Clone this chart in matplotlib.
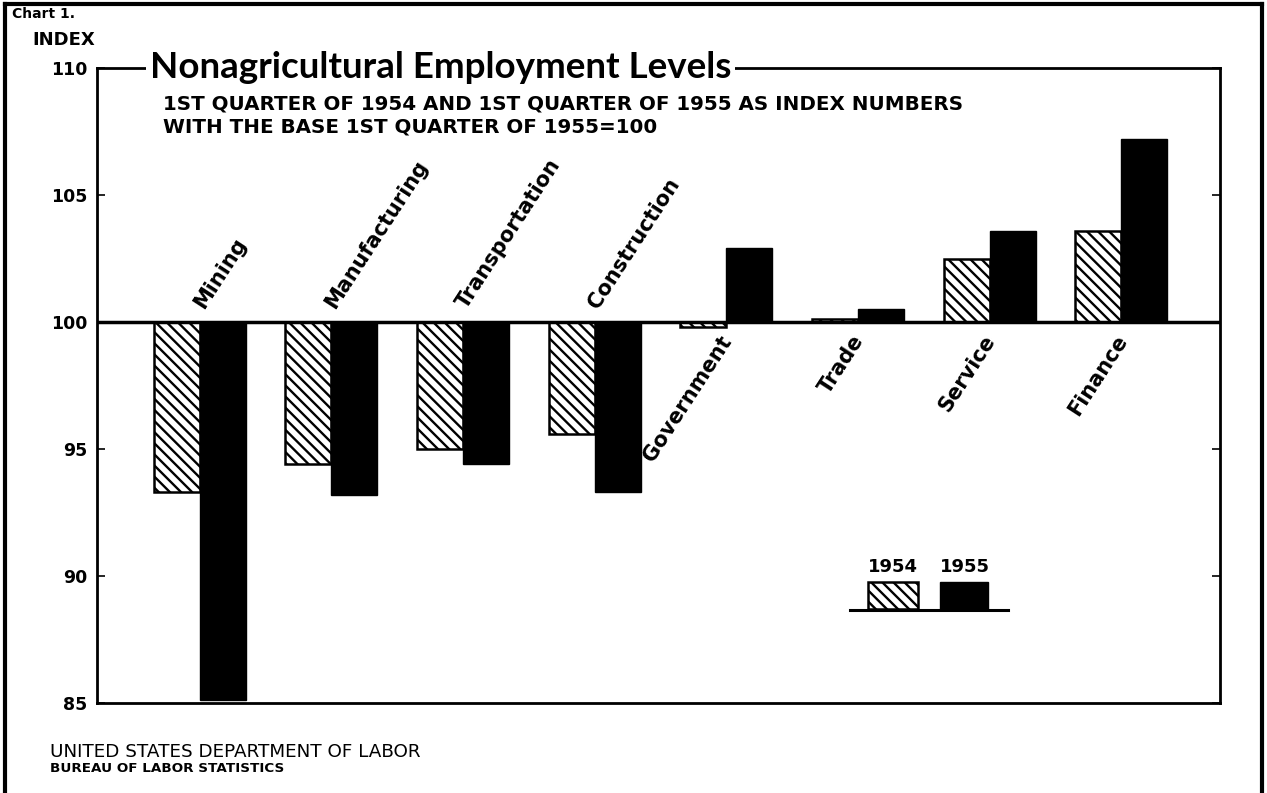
import matplotlib
matplotlib.use("Agg")
import matplotlib.pyplot as plt
from matplotlib.lines import Line2D
from matplotlib.patches import Rectangle
import numpy as np

categories = ["Mining", "Manufacturing", "Transportation", "Construction",
              "Government", "Trade", "Service", "Finance"]
idx_1954 = [93.3, 94.4, 95.0, 95.6, 99.8, 100.1, 102.5, 103.6]
idx_1955 = [85.1, 93.2, 94.4, 93.3, 102.9, 100.5, 103.6, 107.2]
yticks = [85, 90, 95, 100, 105, 110]
legend_labels = ["1954", "1955"]

W, H = 1267, 793
plt.rcParams['hatch.linewidth'] = 1.7
fig = plt.figure(figsize=(W / 100, H / 100), dpi=100)
ax = fig.add_axes([97 / W, 1 - 703 / H, (1220 - 97) / W, (703 - 68) / H])

HEAVY = dict(family=['DejaVu Sans'], fontweight='bold')

x = np.arange(len(categories))
bw = 0.35
base = 100
ax.bar(x - bw / 2, np.array(idx_1954) - base, bw, bottom=base, color='white',
       edgecolor='black', hatch='\\\\\\', linewidth=1.8)
ax.bar(x + bw / 2, np.array(idx_1955) - base, bw, bottom=base, color='black',
       edgecolor='black', linewidth=1.0)

ax.axhline(base, color='black', lw=2.5, zorder=3)
ax.set_xlim(-0.78, 7.75)
ax.set_ylim(85, 110)
ax.set_yticks(yticks)
ax.set_yticklabels([str(t) for t in yticks], **HEAVY, fontsize=12.5)
ax.set_xticks([])
ax.tick_params(axis='y', direction='in', length=6, width=1.2, right=True, pad=7)
for s in ax.spines.values():
    s.set_linewidth(2)

for i, (c, v4, v5) in enumerate(zip(categories, idx_1954, idx_1955)):
    if v5 < base:
        ax.text(i - 0.01, base + 0.6, c, rotation=57, rotation_mode='anchor',
                ha='left', va='center', fontsize=15, **HEAVY)
    else:
        ax.text(i + 0.01, base - 0.6, c, rotation=57, rotation_mode='anchor',
                ha='right', va='center', fontsize=15, **HEAVY)

# legend
ax.add_patch(Rectangle((0.6866, 0.148), 0.0444, 0.0426, transform=ax.transAxes,
                       facecolor='white', edgecolor='black', hatch='\\\\\\', lw=1.8))
ax.add_patch(Rectangle((0.7507, 0.148), 0.0427, 0.0426, transform=ax.transAxes,
                       facecolor='black', edgecolor='black', lw=1))
ax.add_line(Line2D([0.6705, 0.8112], [0.1465, 0.1465], transform=ax.transAxes,
                   color='black', lw=2.2))
ax.text(0.7088, 0.214, legend_labels[0], transform=ax.transAxes, ha='center',
        va='center', fontsize=13, **HEAVY)
ax.text(0.773, 0.214, legend_labels[1], transform=ax.transAxes, ha='center',
        va='center', fontsize=13, **HEAVY)

# titles
fig.text(150 / W, 1 - 68 / H, "Nonagricultural Employment Levels", ha='left',
         va='center', fontsize=26.5, family=['Lato', 'DejaVu Sans'], fontweight='bold',
         bbox=dict(facecolor='white', edgecolor='none', pad=3), zorder=5)
fig.text(163 / W, 1 - 104 / H,
         "1ST QUARTER OF 1954 AND 1ST QUARTER OF 1955 AS INDEX NUMBERS",
         ha='left', va='center', fontsize=14.3, **HEAVY)
fig.text(163 / W, 1 - 127 / H, "WITH THE BASE 1ST QUARTER OF 1955=100",
         ha='left', va='center', fontsize=14.3, **HEAVY)
fig.text(12 / W, 1 - 14 / H, "Chart 1.", ha='left', va='center', fontsize=10,
         family=['DejaVu Sans'], fontweight='bold')
fig.text(32 / W, 1 - 40 / H, "INDEX", ha='left', va='center', fontsize=13, **HEAVY)

fig.text(50 / W, 1 - 752 / H, "UNITED STATES DEPARTMENT OF LABOR", ha='left',
         va='center', fontsize=13.2, family=['DejaVu Sans'])
fig.text(50 / W, 1 - 769 / H, "BUREAU OF LABOR STATISTICS", ha='left',
         va='center', fontsize=9.7, family=['DejaVu Sans'], fontweight='bold')

# page frame
fl, fr, ft = 5 / W, 1262 / W, 1 - 4 / H
for xs, ys in [([fl, fl], [0, ft]), ([fl, fr], [ft, ft]), ([fr, fr], [ft, 0])]:
    fig.add_artist(Line2D(xs, ys, transform=fig.transFigure, color='black', lw=3))

fig.savefig("out.png", dpi=100)
